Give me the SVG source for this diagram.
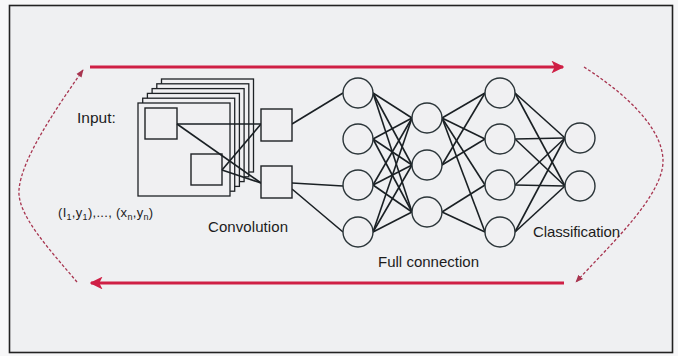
<svg xmlns="http://www.w3.org/2000/svg" width="678" height="356" viewBox="0 0 678 356">
<defs>
<style>
.sheet{fill:#f0f0f2;stroke:#1e2226;stroke-width:1.3}
.sq{fill:#f0f0f2;stroke:#1e2226;stroke-width:1.4}
.nd{fill:#f0f0f2;stroke:#2a3438;stroke-width:1.4}
.ln{stroke:#1a2024;stroke-width:1.6;fill:none}
.red{stroke:#cf1f45;stroke-width:3.2;fill:none}
.dash{stroke:#a83550;stroke-width:1.3;stroke-dasharray:3 2;fill:none}
text{font-family:"Liberation Sans",Arial,sans-serif;fill:#1c1c1c}
</style>
<marker id="rh" viewBox="0 0 10 10" refX="9" refY="5" markerWidth="4" markerHeight="4" orient="auto" markerUnits="strokeWidth">
<path d="M0,0 L10,5 L0,10 L2.5,5 z" fill="#cf1f45"/>
</marker>
<marker id="dh" viewBox="0 0 10 10" refX="9" refY="5" markerWidth="6" markerHeight="6" orient="auto" markerUnits="strokeWidth">
<path d="M0,1 L10,5 L0,9 z" fill="#a83550"/>
</marker>
</defs>
<rect x="0" y="0" width="678" height="356" fill="#f7f7f8"/>
<rect id="frame" x="9.5" y="5.5" width="663" height="347" fill="#eff0f2" stroke="#222" stroke-width="1.6"/>

<g id="input-stack">
<rect class="sheet" x="161.5" y="79" width="92" height="93"/>
<rect class="sheet" x="156.8" y="83.8" width="92" height="93"/>
<rect class="sheet" x="152.1" y="88.6" width="92" height="93"/>
<rect class="sheet" x="147.4" y="93.4" width="92" height="93"/>
<rect class="sheet" x="142.7" y="98.2" width="92" height="93"/>
<rect class="sheet" x="138" y="103" width="92" height="93"/>
<rect class="sq" x="145" y="108" width="32" height="31"/>
<rect class="sq" x="191" y="154" width="31" height="31"/>
</g>

<g id="connectors">
<path class="red" d="M90,67 L563,67" marker-end="url(#rh)"/>
<path class="red" d="M564,283 L91,283" marker-end="url(#rh)"/>
<path class="dash" d="M77,282 C50,250 17,215 19,190 C21,160 55,110 83,70" marker-end="url(#dh)"/>
<path class="dash" d="M584,67 C620,90 662,125 663,160 C664,195 610,245 576,282" marker-end="url(#dh)"/>
<g id="conv-lines" class="ln">
<line x1="177" y1="124" x2="261" y2="124"/>
<line x1="177" y1="124" x2="261" y2="183"/>
<line x1="222" y1="170" x2="261" y2="124"/>
<line x1="222" y1="170" x2="261" y2="183"/>
<line x1="292" y1="124" x2="343" y2="93"/>
<line x1="292" y1="183" x2="343" y2="186"/>
<line x1="292" y1="189" x2="343" y2="232"/>
</g>
<g id="fc12" class="ln">
<line x1="373" y1="93" x2="412" y2="118"/><line x1="373" y1="93" x2="412" y2="165"/><line x1="373" y1="93" x2="412" y2="212"/>
<line x1="373" y1="139" x2="412" y2="118"/><line x1="373" y1="139" x2="412" y2="165"/><line x1="373" y1="139" x2="412" y2="212"/>
<line x1="373" y1="185" x2="412" y2="118"/><line x1="373" y1="185" x2="412" y2="165"/><line x1="373" y1="185" x2="412" y2="212"/>
<line x1="373" y1="232" x2="412" y2="118"/><line x1="373" y1="232" x2="412" y2="165"/><line x1="373" y1="232" x2="412" y2="212"/>
</g>
<g id="fc23" class="ln">
<line x1="442" y1="118" x2="485" y2="93"/><line x1="442" y1="118" x2="485" y2="139"/><line x1="442" y1="118" x2="485" y2="185"/><line x1="442" y1="118" x2="485" y2="232"/>
<line x1="442" y1="165" x2="485" y2="93"/><line x1="442" y1="165" x2="485" y2="139"/>
<line x1="442" y1="212" x2="485" y2="185"/><line x1="442" y1="212" x2="485" y2="232"/>
</g>
<g id="fc34" class="ln">
<line x1="515" y1="93" x2="565" y2="138"/><line x1="515" y1="93" x2="565" y2="186"/>
<line x1="515" y1="139" x2="565" y2="138"/><line x1="515" y1="139" x2="565" y2="186"/>
<line x1="515" y1="185" x2="565" y2="138"/><line x1="515" y1="185" x2="565" y2="186"/>
<line x1="515" y1="232" x2="565" y2="138"/><line x1="515" y1="232" x2="565" y2="186"/>
</g>
</g>

<g id="conv-a"><rect class="sq" x="261" y="109" width="31" height="32"/></g>
<g id="conv-b"><rect class="sq" x="261" y="166" width="31" height="32"/></g>

<g id="layer1">
<circle class="nd" cx="358" cy="93" r="15"/><circle class="nd" cx="358" cy="139" r="15"/><circle class="nd" cx="358" cy="185" r="15"/><circle class="nd" cx="358" cy="232" r="15"/>
</g>
<g id="layer2">
<circle class="nd" cx="427" cy="118" r="15"/><circle class="nd" cx="427" cy="165" r="15"/><circle class="nd" cx="427" cy="212" r="15"/>
</g>
<g id="layer3">
<circle class="nd" cx="500" cy="93" r="15"/><circle class="nd" cx="500" cy="139" r="15"/><circle class="nd" cx="500" cy="185" r="15"/><circle class="nd" cx="500" cy="232" r="15"/>
</g>
<g id="layer4">
<circle class="nd" cx="580" cy="138" r="15"/><circle class="nd" cx="580" cy="186" r="15"/>
</g>

<g id="labels">
<text x="77" y="123" font-size="15.5">Input:</text>
<text x="58" y="217" font-size="13" letter-spacing="0.3">(I<tspan font-size="9" dy="2.5">1</tspan><tspan dy="-2.5">,y</tspan><tspan font-size="9" dy="2.5">1</tspan><tspan dy="-2.5">),..., (x</tspan><tspan font-size="9" dy="2.5">n</tspan><tspan dy="-2.5">,y</tspan><tspan font-size="9" dy="2.5">n</tspan><tspan dy="-2.5">)</tspan></text>
<text x="208" y="232" font-size="15" textLength="80">Convolution</text>
<text x="378" y="267" font-size="15" textLength="101">Full connection</text>
<text x="533" y="237" font-size="15" textLength="87">Classification</text>
</g>
</svg>
